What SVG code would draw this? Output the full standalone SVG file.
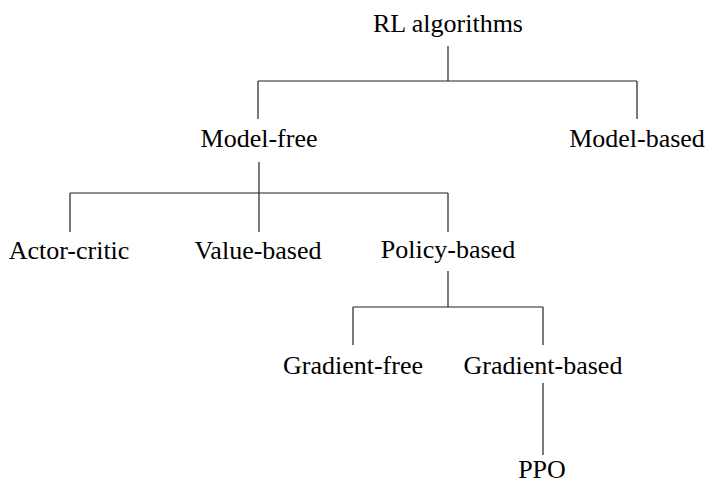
<svg xmlns="http://www.w3.org/2000/svg" width="708" height="486" viewBox="0 0 708 486">
<style>
text{font-family:"Liberation Serif","Times New Roman",serif;font-size:26px;fill:#000;text-anchor:middle}
.c line{stroke:#222;stroke-width:1.2}
</style>
<rect width="708" height="486" fill="#fff"/>
<g class="c" id="connectors">
<line x1="448" y1="46" x2="448" y2="81"/>
<line x1="258" y1="81" x2="637" y2="81"/>
<line x1="258" y1="81" x2="258" y2="119"/>
<line x1="637" y1="81" x2="637" y2="119"/>
<line x1="259" y1="162" x2="259" y2="193"/>
<line x1="70" y1="193" x2="448" y2="193"/>
<line x1="70" y1="193" x2="70" y2="232"/>
<line x1="259" y1="193" x2="259" y2="232"/>
<line x1="448" y1="193" x2="448" y2="232"/>
<line x1="448" y1="271" x2="448" y2="307"/>
<line x1="353" y1="307" x2="543" y2="307"/>
<line x1="353" y1="307" x2="353" y2="345"/>
<line x1="543" y1="307" x2="543" y2="345"/>
<line x1="543" y1="383" x2="543" y2="455"/>
</g>
<g id="rl"><text x="448" y="32">RL algorithms</text></g>
<g id="modelfree"><text x="259" y="147">Model-free</text></g>
<g id="modelbased"><text x="637" y="147">Model-based</text></g>
<g id="actorcritic"><text x="69" y="259">Actor-critic</text></g>
<g id="valuebased"><text x="258" y="259">Value-based</text></g>
<g id="policybased"><text x="448" y="258">Policy-based</text></g>
<g id="gradientfree"><text x="353" y="374">Gradient-free</text></g>
<g id="gradientbased"><text x="543" y="374">Gradient-based</text></g>
<g id="ppo"><text x="542" y="478">PPO</text></g>
</svg>
